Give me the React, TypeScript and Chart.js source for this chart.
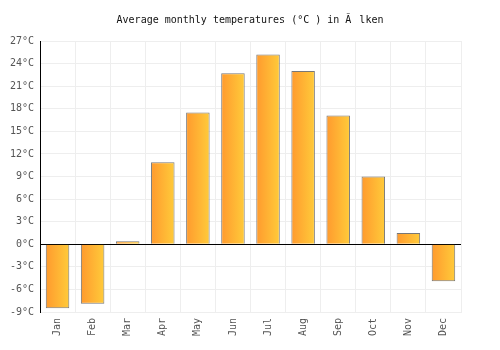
import React, { useEffect, useRef } from "react";
import { Chart, registerables } from "chart.js";

Chart.register(...registerables);

const months = ["Jan", "Feb", "Mar", "Apr", "May", "Jun", "Jul", "Aug", "Sep", "Oct", "Nov", "Dec"];
const temperatures = [-8.5, -7.9, 0.4, 10.9, 17.5, 22.7, 25.2, 23.0, 17.1, 9.0, 1.5, -4.9];
const titleText = "Average monthly temperatures (°C ) in Ã\u0096lken";
const yMin = -9;
const yMax = 27;
const yStep = 3;

const FONT_FAMILY = "'DejaVu Sans Mono', monospace";

const gradientPlugin = {
  id: "barGradient",
  beforeDatasetsDraw(chart: any) {
    const ctx = chart.ctx;
    const meta = chart.getDatasetMeta(0);
    meta.data.forEach((el: any) => {
      const half = el.width / 2;
      const g = ctx.createLinearGradient(el.x - half, 0, el.x + half, 0);
      g.addColorStop(0, "#ff9a2e");
      g.addColorStop(1, "#ffcb3a");
      el.options = { ...el.options, backgroundColor: g };
    });
  },
};

const titlePlugin = {
  id: "centerTitle",
  afterDraw(chart: any) {
    const ctx = chart.ctx;
    ctx.save();
    ctx.font = `10px ${FONT_FAMILY}`;
    ctx.fillStyle = "#111";
    ctx.textAlign = "center";
    ctx.textBaseline = "middle";
    ctx.fillText(titleText, chart.width / 2, 20);
    ctx.restore();
  },
};

export default function App() {
  const ref = useRef<HTMLCanvasElement | null>(null);
  useEffect(() => {
    document.body.style.margin = "0";
    const font = { family: FONT_FAMILY, size: 10 };
    const chart = new Chart(ref.current!, {
      type: "bar",
      data: {
        labels: months,
        datasets: [
          {
            data: temperatures,
            backgroundColor: (c: any) => "#ffb030",
            borderColor: "#777777",
            borderWidth: 1,
            barPercentage: 0.67,
            categoryPercentage: 1,
          },
        ],
      },
      options: {
        animation: false,
        responsive: false,
        maintainAspectRatio: false,
        layout: { padding: { left: 0, right: 39, top: 41, bottom: 0 } },
        plugins: {
          legend: { display: false },
          tooltip: { enabled: false },
          title: { display: false },
        },
        scales: {
          x: {
            grid: { color: "#eeeeee", offset: true, drawTicks: false },
            border: { color: "#eeeeee" },
            ticks: {
              color: "#555",
              font,
              minRotation: 90,
              maxRotation: 90,
              padding: 6,
            },
            afterFit: (s: any) => {
              s.height = 38;
            },
          },
          y: {
            min: yMin,
            max: yMax,
            grid: {
              color: (c: any) => (c.tick && c.tick.value === 0 ? "#000000" : "#eeeeee"),
              drawTicks: false,
            },
            border: { color: "#000000" },
            ticks: {
              stepSize: yStep,
              color: "#555",
              font,
              padding: 6,
              callback: (v: any) => v + "°C",
            },
            afterFit: (s: any) => {
              s.width = 40;
            },
          },
        },
      },
      plugins: [gradientPlugin, titlePlugin],
    });
    return () => chart.destroy();
  }, []);
  return <canvas ref={ref} width={500} height={350} style={{ display: "block" }} />;
}
